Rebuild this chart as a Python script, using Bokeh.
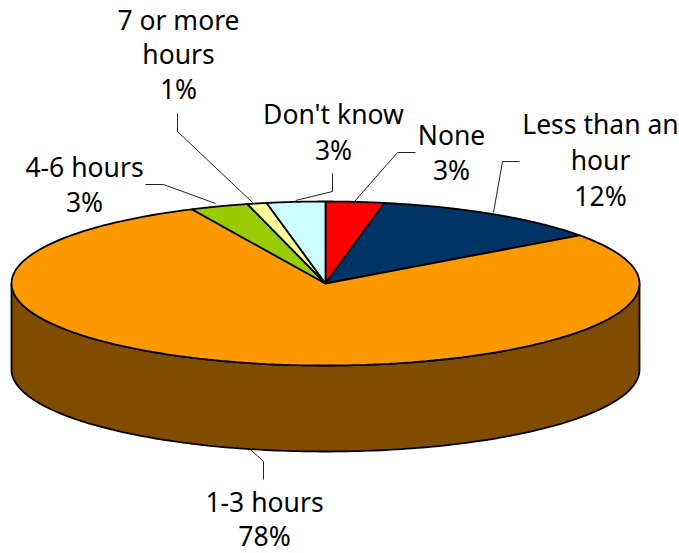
import numpy as np
from bokeh.plotting import figure
from bokeh.embed import file_html
from bokeh.resources import INLINE
from bokeh.core.properties import value

categories = ["None", "Less than an hour", "1-3 hours", "4-6 hours", "7 or more hours", "Don't know"]
values = [3, 12, 78, 3, 1, 3]
colors = ["#FF0000", "#003366", "#FF9900", "#99CC00", "#FFFF99", "#CCFFFF"]
side_color = "#804C00"

W, H = 679, 553
p = figure(width=W, height=H, x_range=(0, W), y_range=(H, 0), output_backend="svg",
           toolbar_location=None, min_border=0, outline_line_color=None,
           background_fill_color="white", border_fill_color="white")
p.axis.visible = False
p.grid.visible = False

cx, cy, rx, ry, depth = 325, 283, 314, 82, 86

# side wall
t = np.linspace(np.pi / 2, 3 * np.pi / 2, 181)
ex, ey = cx + rx * np.sin(t), cy - ry * np.cos(t)
p.patch(np.r_[ex, ex[::-1]], np.r_[ey, ey[::-1] + depth], fill_color=side_color,
        line_color="black", line_width=1.8)

# top slices
cum = np.cumsum([0] + values) / sum(values) * 2 * np.pi
for i, c in enumerate(colors):
    a = np.linspace(cum[i], cum[i + 1], 200)
    xs = np.r_[cx, cx + rx * np.sin(a)]
    ys = np.r_[cy, cy - ry * np.cos(a)]
    p.patch(xs, ys, fill_color=c, line_color="black", line_width=1.8)

# leader lines
leaders = [
    ([354, 397, 415], [201, 152, 152]),
    ([493, 502, 519], [212, 161, 161]),
    ([250, 263, 263], [449, 461, 479]),
    ([215, 163, 145], [203, 184, 184]),
    ([252, 177, 177], [202, 131, 113]),
    ([295, 332, 332], [200, 191, 173]),
]
for lx, ly in leaders:
    p.line(lx, ly, line_color="#222222", line_width=1)

# labels: (line text, centre x, centre y)
labels = [
    ("None", 451, 134), ("3%", 451, 169),
    ("Less than an", 600, 123), ("hour", 600, 159), ("12%", 600, 195),
    ("1-3 hours", 264, 501), ("78%", 264, 535),
    ("4-6 hours", 84, 166), ("3%", 84, 201),
    ("7 or more", 178, 19), ("hours", 178, 53), ("1%", 178, 88),
    ("Don't know", 333, 113), ("3%", 333, 149),
]
p.text([l[1] for l in labels], [l[2] for l in labels], text=[l[0] for l in labels],
       text_font=value("Noto Sans"), text_font_size="26.5px", text_color="black",
       text_align="center", text_baseline="middle")

open("out.html", "w").write(file_html(p, INLINE))
